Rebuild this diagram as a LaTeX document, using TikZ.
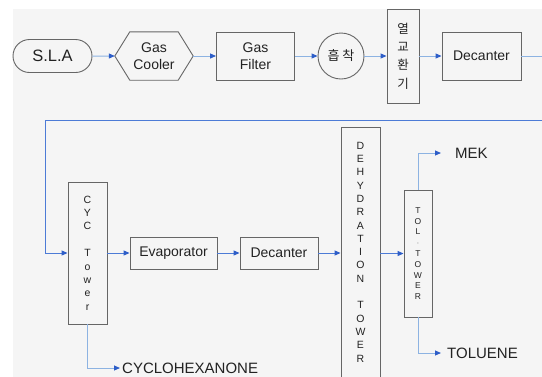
\documentclass[tikz,border=0pt]{standalone}
\usepackage{fontspec}
\setmainfont{Liberation Sans}
\newfontfamily\kr{Noto Sans CJK KR}
\usetikzlibrary{arrows.meta,shapes.misc}
\definecolor{bgc}{HTML}{F5F5F5}
\definecolor{lightln}{HTML}{8DB3E2}
\definecolor{mainln}{HTML}{4D7BD6}
\definecolor{tipc}{HTML}{2E5EC8}
\definecolor{boxc}{HTML}{666666}
\definecolor{txtc}{HTML}{222222}
\tikzset{
  box/.style={draw=boxc, line width=0.9pt, fill=bgc, inner sep=0pt, text=txtc, align=center, font=\fontsize{14}{16}\selectfont},
  lbl/.style={inner sep=0pt, text=txtc, anchor=west, font=\fontsize{15}{17}\selectfont},
  tip/.style={-{Triangle[length=6pt,width=5pt,color=tipc]}},
  lline/.style={draw=lightln, line width=1pt},
  mline/.style={draw=mainln, line width=1pt},
}
\begin{document}
\begin{tikzpicture}[x=1pt,y=-1pt]
\useasboundingbox (0,0) rectangle (542,376);
\fill[bgc] (13,9) rectangle (542,380);
% top row
\node[box, rounded rectangle, minimum width=79, minimum height=33, font=\fontsize{16.5}{18}\selectfont] (sla) at (52.5,56) {S.L.A};
\node[inner sep=0pt, minimum width=78, minimum height=48, text=txtc, align=center, font=\fontsize{14}{16}\selectfont] (cooler) at (154,56) {};
\filldraw[draw=boxc, fill=bgc, line width=0.9pt] (cooler.west) -- ([xshift=15]cooler.north west) -- ([xshift=-15]cooler.north east) -- (cooler.east) -- ([xshift=-15]cooler.south east) -- ([xshift=15]cooler.south west) -- cycle;
\node[text=txtc, align=center, font=\fontsize{14}{16.5}\selectfont] at (cooler.center) {Gas\\Cooler};
\node[box, minimum width=78, minimum height=48, font=\fontsize{14}{16.5}\selectfont] (filter) at (255.5,56) {Gas\\Filter};
\node[box, circle, minimum size=46, font=\kr\fontsize{13}{15}\selectfont] (ads) at (341,56) {흡 착};
\node[box, minimum width=32, minimum height=94, font=\kr\fontsize{12.5}{18.3}\selectfont] (hx) at (403,56) {열\\교\\환\\기};
\node[box, minimum width=79, minimum height=48] (dec1) at (481.5,56) {Decanter};
\draw[lline, tip] (sla) -- (cooler);
\draw[lline, tip] (cooler) -- (filter);
\draw[lline, tip] (filter) -- (ads);
\draw[lline, tip] (ads) -- (hx);
\draw[lline, tip] (hx) -- (dec1);
% return line
\coordinate (out) at (552,56);
\coordinate (rin) at (552,120.5);
\coordinate (c1) at (45,120.5);
\draw[lline] (dec1.east) -- (out);
% bottom row
\node[box, minimum width=39, minimum height=142, font=\fontsize{10.5}{13.4}\selectfont] (cyc) at (87.5,253) {C\\Y\\C\\~\\T\\o\\w\\e\\r};
\node[box, minimum width=87, minimum height=32] (evap) at (173.5,253) {Evaporator};
\node[box, minimum width=78, minimum height=32] (dec2) at (279,253) {Decanter};
\node[box, minimum width=39, minimum height=250, font=\fontsize{10.5}{13.3}\selectfont] (dehyd) at (360.5,252) {D\\E\\H\\Y\\D\\R\\A\\T\\I\\O\\N\\~\\T\\O\\W\\E\\R};
\node[box, minimum width=28, minimum height=127, font=\fontsize{8.5}{10.8}\selectfont] (tol) at (418,253.5) {T\\O\\L\\$\cdot$\\T\\O\\W\\E\\R};
\draw[mline, tip] (rin) -- (c1) |- (cyc.west);
\draw[mline, tip] (cyc.east) -- (evap.west);
\draw[mline, tip] (evap) -- (dec2);
\draw[mline, tip] (dec2.east) -- (dehyd.west |- dec2.east);
\draw[mline, tip] (dehyd.east |- tol.west) -- (tol.west);
% outputs
\node[lbl] (mek) at (455,153) {MEK};
\node[lbl] (tolu) at (447,353) {TOLUENE};
\node[lbl] (cyclo) at (122,368) {CYCLOHEXANONE};
\draw[lline, tip] (tol.north) |- ([xshift=-14]mek.west);
\draw[lline, tip] (tol.south) |- ([xshift=-6]tolu.west);
\draw[lline, tip] (cyc.south) |- ([xshift=-2]cyclo.west);
\end{tikzpicture}
\end{document}
